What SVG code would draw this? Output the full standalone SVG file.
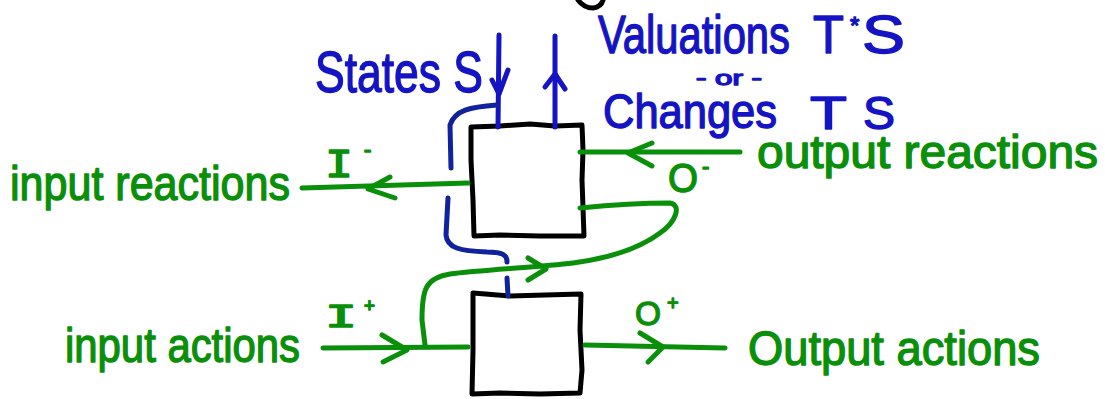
<svg xmlns="http://www.w3.org/2000/svg" width="1105" height="399" viewBox="0 0 1105 399">
  <style>
    .box{fill:#fff;stroke:#000;stroke-width:5;stroke-linejoin:round;stroke-linecap:round}
    .ink{fill:none;stroke:#000;stroke-width:5;stroke-linecap:round}
    .g{fill:none;stroke:#0a8f0a;stroke-width:5;stroke-linecap:round;stroke-linejoin:round}
    .b{fill:none;stroke:#1414c4;stroke-width:5;stroke-linecap:round;stroke-linejoin:round}
    .bd{fill:none;stroke:#10229c;stroke-width:5;stroke-linecap:round;stroke-linejoin:round}
    .tg{font-family:"Liberation Sans",Arial,sans-serif;fill:#0a8f0a;stroke:#0a8f0a;stroke-width:1.4;stroke-linejoin:round}
    .tb{font-family:"Liberation Sans",Arial,sans-serif;fill:#1414c4;stroke:#1414c4;stroke-width:1.4;stroke-linejoin:round}
    .mono{font-family:"DejaVu Sans Mono","Liberation Mono",monospace}
  </style>

  <!-- stray stroke cut off at the top edge -->
  <path class="ink" d="M578,0 Q584,8 593,8 Q601,7 603,0"/>

  <!-- upper component -->
  <g id="node-upper">
    <path class="box" d="M471,127 L500,126 L530,124 L555,126 L582,125 L583,150 L582,180 L584,236 L540,236 L500,235 L474,236 L473,200 L471,160 Z"/>
  </g>

  <!-- lower component -->
  <g id="node-lower">
    <path class="box" d="M473,293 L510,296 L545,295 L581,294 L580,330 L582,370 L580,393 L540,394 L500,393 L472,394 L473,350 Z"/>
  </g>

  <!-- connectors -->
  <g id="connectors">
    <!-- states in -->
    <path class="b" d="M499,35 L498,127"/>
    <path class="b" d="M492,80 L499,94 L508,70"/>
    <!-- valuations / changes out -->
    <path class="b" d="M555,36 L555,127"/>
    <path class="b" d="M545,87 L555,74 L565,89"/>
    <!-- state hand-off from upper to lower -->
    <path class="bd" d="M497,105 C470,107 455,110 450,125 L451,168"/>
    <path class="bd" d="M448,198 L446,235 C447,248 460,251 487,252 C503,252 507,255 507,262"/>
    <path class="bd" d="M507,278 L508,296"/>

    <!-- input reactions -->
    <path class="g" d="M302,188 L468,183"/>
    <path class="g" d="M390,177 L368,189 L395,198"/>
    <!-- output reactions -->
    <path class="g" d="M740,152 L580,152"/>
    <path class="g" d="M652,143 L628,153 L652,166"/>
    <!-- O- fed back into the lower component -->
    <path class="g" d="M580,208 C610,205 650,203 670,203 C682,205 676,222 660,233 C640,248 610,258 573,263 C540,267 480,270 450,274 C425,278 422,290 422,320 L425,345"/>
    <path class="g" d="M528,258 L546,269 L528,280"/>
    <!-- input actions -->
    <path class="g" d="M323,348 L468,347"/>
    <path class="g" d="M382,335 L407,350 L383,362"/>
    <!-- output actions -->
    <path class="g" d="M585,345 L725,348"/>
    <path class="g" d="M640,333 L663,347 L648,362"/>
  </g>

  <!-- blue labels -->
  <g id="label-states">
    <text class="tb" x="315" y="92" font-size="58" textLength="168" lengthAdjust="spacingAndGlyphs">States S</text>
  </g>
  <g id="label-valuations">
    <text class="tb" x="598" y="53" font-size="54" textLength="192" lengthAdjust="spacingAndGlyphs">Valuations</text>
    <text class="tb" x="813" y="53" font-size="54" textLength="31" lengthAdjust="spacingAndGlyphs">T</text>
    <text class="tb" x="850" y="34" font-size="24">*</text>
    <text class="tb" x="862" y="53" font-size="54" textLength="43" lengthAdjust="spacingAndGlyphs">S</text>
    <text class="tb" x="696" y="85" font-size="20" textLength="66" lengthAdjust="spacingAndGlyphs">- or -</text>
    <text class="tb" x="603" y="128" font-size="48" textLength="174" lengthAdjust="spacingAndGlyphs">Changes</text>
    <text class="tb" x="810" y="129" font-size="46" textLength="37" lengthAdjust="spacingAndGlyphs">T</text>
    <text class="tb" x="863" y="129" font-size="46" textLength="32" lengthAdjust="spacingAndGlyphs">S</text>
  </g>

  <!-- green labels -->
  <g id="label-input-reactions">
    <text class="tg" x="10" y="200" font-size="48" textLength="280" lengthAdjust="spacingAndGlyphs">input reactions</text>
    <text class="tg mono" x="325" y="177" font-size="37" textLength="28" lengthAdjust="spacingAndGlyphs">I</text>
    <text class="tg mono" x="361" y="157" font-size="22">-</text>
  </g>
  <g id="label-output-reactions">
    <text class="tg" x="757" y="168" font-size="46" textLength="341" lengthAdjust="spacingAndGlyphs">output reactions</text>
    <text class="tg" x="668" y="192" font-size="40" textLength="30" lengthAdjust="spacingAndGlyphs">O</text>
    <text class="tg" x="702" y="174" font-size="22">-</text>
  </g>
  <g id="label-input-actions">
    <text class="tg" x="65" y="362" font-size="48" textLength="235" lengthAdjust="spacingAndGlyphs">input actions</text>
    <text class="tg mono" x="325" y="327" font-size="30" textLength="32" lengthAdjust="spacingAndGlyphs">I</text>
    <text class="tg mono" x="364" y="311" font-size="18">+</text>
  </g>
  <g id="label-output-actions">
    <text class="tg" x="748" y="365" font-size="48" textLength="292" lengthAdjust="spacingAndGlyphs">Output actions</text>
    <text class="tg" x="635" y="325" font-size="34" textLength="26" lengthAdjust="spacingAndGlyphs">O</text>
    <text class="tg" x="667" y="310" font-size="20">+</text>
  </g>
</svg>
